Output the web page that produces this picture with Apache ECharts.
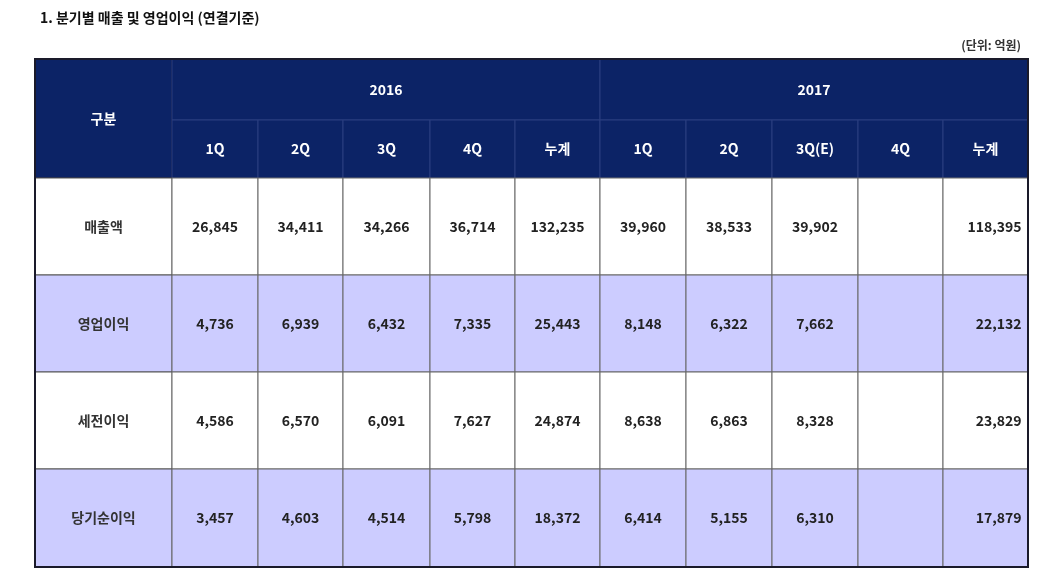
<!DOCTYPE html>
<html>
<head>
<meta charset="UTF-8">
<title></title>
<script src="https://cdn.jsdelivr.net/npm/echarts@6/dist/echarts.min.js"></script>
<style>
html,body{margin:0;padding:0;background:#fff;}
#main{width:1060px;height:585px;}
</style>
</head>
<body>
<div id="main"></div>
<script type="text/javascript">
var years = ['2016', '2017'];
var quarters = ['1Q', '2Q', '3Q', '4Q', '누계', '1Q', '2Q', '3Q(E)', '4Q', '누계'];
var rowNames = ['매출액', '영업이익', '세전이익', '당기순이익'];
var sales = ['26,845', '34,411', '34,266', '36,714', '132,235', '39,960', '38,533', '39,902', '', '118,395'];
var opProfit = ['4,736', '6,939', '6,432', '7,335', '25,443', '8,148', '6,322', '7,662', '', '22,132'];
var preTax = ['4,586', '6,570', '6,091', '7,627', '24,874', '8,638', '6,863', '8,328', '', '23,829'];
var netProfit = ['3,457', '4,603', '4,514', '5,798', '18,372', '6,414', '5,155', '6,310', '', '17,879'];
var rowValues = [sales, opProfit, preTax, netProfit];

// 표 격자 (축 단위)
var colEdges = [0, 137, 223, 308, 395, 480, 565, 651, 737, 823, 908, 993];
var rowEdges = [0, 61, 119, 216, 313, 410, 508];

var navy = '#0c2366';
var lavender = '#ccccff';
var cells = [];
function cell(c0, c1, r0, r1, text, fill, color, line, right) {
  cells.push([colEdges[c0], colEdges[c1], rowEdges[r0], rowEdges[r1], text, fill, color, line, right]);
}
cell(0, 1, 0, 2, '구분', navy, '#fff', '#1a1a3a');
cell(1, 6, 0, 1, years[0], navy, '#fff', '#2a3f80');
cell(6, 11, 0, 1, years[1], navy, '#fff', '#2a3f80');
quarters.forEach(function (q, i) { cell(i + 1, i + 2, 1, 2, q, navy, '#fff', '#2a3f80'); });
rowNames.forEach(function (name, r) {
  var fill = r % 2 ? lavender : '#fff';
  cell(0, 1, r + 2, r + 3, name, fill, '#333', '#555');
  rowValues[r].forEach(function (v, i) {
    cell(i + 1, i + 2, r + 2, r + 3, v, fill, '#222', '#666', i === 9);
  });
});

var myChart = echarts.init(document.getElementById('main'));
myChart.setOption({
  title: [{
    text: '1. 분기별 매출 및 영업이익 (연결기준)', left: 35, top: 6,
    textStyle: { fontSize: 14, fontWeight: 'bold', color: '#111', fontFamily: 'Noto Sans CJK KR' }
  }, {
    text: '(단위: 억원)', right: 34, top: 34,
    textStyle: { fontSize: 12, fontWeight: 'bold', color: '#333', fontFamily: 'Noto Sans CJK KR' }
  }],
  grid: { left: 35, right: 32, top: 59, bottom: 18 },
  xAxis: { type: 'value', min: 0, max: 993, show: false },
  yAxis: { type: 'value', min: 0, max: 508, inverse: true, show: false },
  series: [{
    type: 'custom',
    data: cells,
    silent: true,
    renderItem: function (params, api) {
      var p0 = api.coord([api.value(0), api.value(2)]);
      var p1 = api.coord([api.value(1), api.value(3)]);
      var d = cells[params.dataIndex];
      return {
        type: 'rect',
        shape: { x: p0[0], y: p0[1], width: p1[0] - p0[0], height: p1[1] - p0[1] },
        style: { fill: d[5], stroke: d[7], lineWidth: 1 },
        textContent: {
          style: {
            text: d[4], fill: d[6], fontSize: 14, fontWeight: 'bold',
            fontFamily: 'Noto Sans CJK KR'
          }
        },
        textConfig: d[8] ? { position: 'insideRight', distance: 7 } : { position: 'inside' }
      };
    }
  }, {
    type: 'custom',
    data: [[0, 993, 0, 508]],
    silent: true,
    z: 5,
    renderItem: function (params, api) {
      var p0 = api.coord([api.value(0), api.value(2)]);
      var p1 = api.coord([api.value(1), api.value(3)]);
      return {
        type: 'rect',
        shape: { x: p0[0], y: p0[1], width: p1[0] - p0[0], height: p1[1] - p0[1] },
        style: { fill: 'none', stroke: '#1a1a2a', lineWidth: 2 }
      };
    }
  }]
});
</script>
</body>
</html>
